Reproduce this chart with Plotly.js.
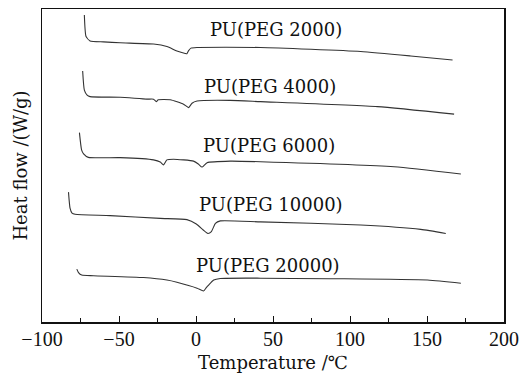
<!DOCTYPE html>
<html>
<head>
<meta charset="utf-8">
<script src="https://cdn.plot.ly/plotly-3.0.1.min.js"></script>
<style>html,body{margin:0;padding:0;background:#fff;}#chart{width:520px;height:374px;}</style>
</head>
<body>
<div id="chart"></div>
<script>
// Temperature (°C) and heat flow (arbitrary offset units)
const seriesNames = ["PU(PEG 2000)", "PU(PEG 4000)", "PU(PEG 6000)", "PU(PEG 10000)", "PU(PEG 20000)"];

const peg2000_T = [-72.5, -71.4, -68.8, -60.1, -49.3, -27.6, -18.9, -12.4, -7.0, -5.9, -4.8, -3.3, 0.7, 41.8, 106.9, 139.4, 166.6];
const peg2000_H = [9.81, 9.12, 8.98, 8.95, 8.92, 8.88, 8.80, 8.66, 8.58, 8.57, 8.67, 8.75, 8.77, 8.77, 8.64, 8.50, 8.37];

const peg4000_T = [-73.6, -72.5, -70.7, -68.8, -49.3, -31.9, -27.6, -25.8, -24.5, -16.7, -8.1, -4.8, -2.6, 0.7, 22.3, 41.8, 117.8, 167.6];
const peg4000_H = [8.02, 7.41, 7.25, 7.20, 7.18, 7.12, 7.12, 7.04, 7.10, 7.10, 6.96, 6.85, 6.99, 7.06, 7.08, 7.04, 6.88, 6.64];

const peg6000_T = [-75.7, -74.3, -73.0, -69.9, -49.3, -27.6, -23.2, -21.1, -18.9, -14.6, -1.6, 1.5, 3.9, 7.2, 22.3, 41.8, 128.6, 172.0];
const peg6000_H = [6.05, 5.50, 5.37, 5.26, 5.25, 5.18, 5.11, 5.02, 5.18, 5.20, 5.14, 5.05, 4.95, 5.09, 5.14, 5.12, 4.96, 4.73];

const peg10000_T = [-82.8, -81.8, -80.5, -78.5, -55.8, -23.2, -5.9, 0.2, 4.7, 7.7, 10.0, 12.6, 15.8, 41.8, 106.9, 145.9, 162.2];
const peg10000_H = [4.15, 3.64, 3.48, 3.44, 3.40, 3.31, 3.27, 3.13, 2.94, 2.83, 2.89, 3.15, 3.23, 3.20, 3.10, 2.96, 2.83];

const peg20000_T = [-77.4, -76.3, -74.2, -66.6, -34.1, -18.9, -12.4, 0.7, 4.9, 6.7, 8.2, 11.5, 15.8, 41.8, 150.3, 172.0];
const peg20000_H = [1.69, 1.58, 1.50, 1.48, 1.42, 1.34, 1.27, 1.08, 0.99, 1.10, 1.18, 1.34, 1.39, 1.40, 1.34, 1.24];

// label anchor points (temperature, heat flow)
const labelT = [52.2, 48.3, 47.7, 48.7, 47.0];
const labelH = [9.36, 7.52, 5.65, 3.74, 1.82];

const xs = [peg2000_T, peg4000_T, peg6000_T, peg10000_T, peg20000_T];
const ys = [peg2000_H, peg4000_H, peg6000_H, peg10000_H, peg20000_H];

const traces = xs.map((x, i) => ({
  x: x, y: ys[i], type: 'scatter', mode: 'lines', name: seriesNames[i],
  line: {color: '#333333', width: 1.1, shape: 'spline', smoothing: 0.5},
  hoverinfo: 'skip'
}));

const annotations = seriesNames.map((t, i) => ({
  x: labelT[i], y: labelH[i], xref: 'x', yref: 'y', text: t, showarrow: false,
  xanchor: 'center', yanchor: 'middle',
  font: {family: 'DejaVu Serif', size: 18, color: '#111'}
}));

const layout = {
  width: 520, height: 374,
  margin: {l: 42, r: 16, t: 9, b: 52},
  paper_bgcolor: '#ffffff', plot_bgcolor: '#ffffff',
  showlegend: false,
  annotations: annotations,
  xaxis: {
    range: [-100, 200], tickvals: [-100, -50, 0, 50, 100, 150, 200],
    ticktext: ['\u2212100', '\u221250', '0', '50', '100', '150', '200'],
    ticks: 'inside', ticklen: 6, tickwidth: 1, tickcolor: '#111',
    minor: {dtick: 25, tick0: -100, ticks: 'inside', ticklen: 4, tickcolor: '#111', showgrid: false},
    showgrid: false, zeroline: false, showline: true, linecolor: '#111', linewidth: 1.5, mirror: true,
    tickfont: {family: 'Liberation Serif', size: 20, color: '#111'},
    ticklabelstandoff: -2,
    title: {text: 'Temperature /\u2103', font: {family: 'DejaVu Serif', size: 18, color: '#111'}, standoff: 8}
  },
  yaxis: {
    range: [0, 10], showticklabels: false, ticks: '', showgrid: false, zeroline: false,
    showline: true, linecolor: '#111', linewidth: 1.5, mirror: true,
    title: {text: 'Heat flow /(W/g)', font: {family: 'DejaVu Serif', size: 18, color: '#111'}, standoff: 8}
  }
};

Plotly.newPlot('chart', traces, layout, {staticPlot: true, displayModeBar: false});
</script>
</body>
</html>
